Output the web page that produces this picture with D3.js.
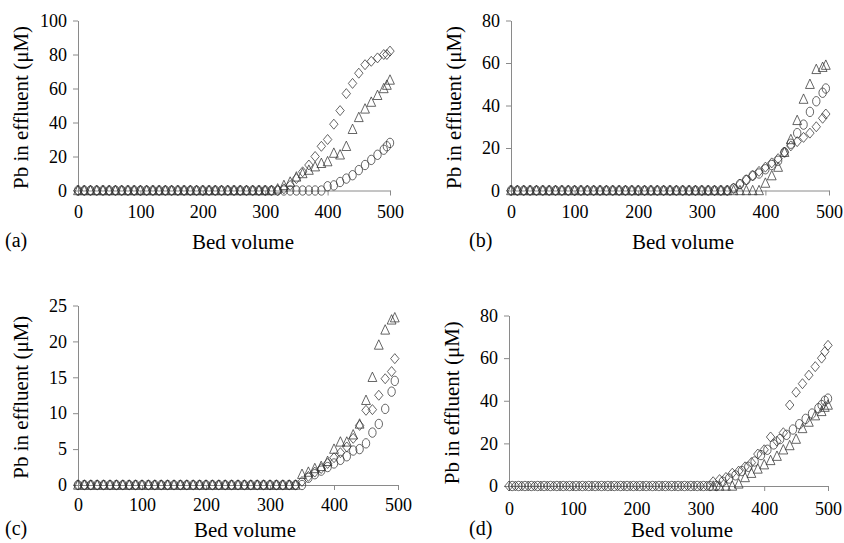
<!DOCTYPE html>
<html>
<head>
<meta charset="utf-8">
<script src="https://cdn.jsdelivr.net/npm/d3@7"></script>
<style>
  body { margin: 0; background: #fff; }
</style>
</head>
<body>
<div class="chart-container"></div>
<script>
// bed volumes sampled in each panel
const xA = [0,10,20,30,40,50,60,70,80,90,100,110,120,130,140,150,160,170,180,190,200,210,220,230,240,250,260,270,280,290,300,310,320,330,340,350,360,370,380,390,400,410,420,430,440,450,460,470,480,490,495,500];
const xB = [0,10,20,30,40,50,60,70,80,90,100,110,120,130,140,150,160,170,180,190,200,210,220,230,240,250,260,270,280,290,300,310,320,330,340,350,360,370,380,390,400,410,420,430,440,450,460,470,480,490,495];
const xC = xB;
const xD = xA;
const xDcircle = [5,15,25,35,45,55,65,75,85,95,105,115,125,135,145,155,165,175,185,195,205,215,225,235,245,255,265,275,285,295,305,315,325,335,345,355,365,375,385,395,405,415,425,435,445,455,465,475,485,490,495,500];

// Pb in effluent (uM)
const diamondA = [0,0,0,0,0,0,0,0,0,0,0,0,0,0,0,0,0,0,0,0,0,0,0,0,0,0,0,0,0,0,0,0,0,
  1,3,7,11,15,20,26,30,39,47,57,63,69,74,76,78,80,80,82];
const triangleA = [0,0,0,0,0,0,0,0,0,0,0,0,0,0,0,0,0,0,0,0,0,0,0,0,0,0,0,0,0,0,0,0,
  1,3,5,8,10,12,14,16,17,22,21,26,36,43,48,52,56,60,62,65];
const circleA = [0,0,0,0,0,0,0,0,0,0,0,0,0,0,0,0,0,0,0,0,0,0,0,0,0,0,0,0,0,0,0,0,0,0,0,0,0,0,0,0,
  2.5,3,5,7,9,12,15,18,21,24,26,28];

const diamondB = [0,0,0,0,0,0,0,0,0,0,0,0,0,0,0,0,0,0,0,0,0,0,0,0,0,0,0,0,0,0,0,0,0,0,0,
  1,3,5,7,9,11,13,15,18,21,23,25,27,30,34,36];
const triangleB = [0,0,0,0,0,0,0,0,0,0,0,0,0,0,0,0,0,0,0,0,0,0,0,0,0,0,0,0,0,0,0,0,0,0,0,0,0,0,0,0,
  3.5,7,11,18,24,33,43,50,57,58,59];
const circleB = [0,0,0,0,0,0,0,0,0,0,0,0,0,0,0,0,0,0,0,0,0,0,0,0,0,0,0,0,0,0,0,0,0,0,0,
  1,3,5,7,8,10,12,14,18,22,27,31,37,42,46,48];

const diamondC = [0,0,0,0,0,0,0,0,0,0,0,0,0,0,0,0,0,0,0,0,0,0,0,0,0,0,0,0,0,0,0,0,0,0,0,
  0.5,1.2,1.8,2.3,3,3.8,4.5,5.3,6.5,8.3,10.4,10.5,12.5,14.8,15.8,17.6];
const triangleC = [0,0,0,0,0,0,0,0,0,0,0,0,0,0,0,0,0,0,0,0,0,0,0,0,0,0,0,0,0,0,0,0,0,0,0,
  1.5,1.8,2.3,2.6,3.3,5,6,6,7,8.5,11.8,15,19.5,21.6,23,23.3];
const circleC = [0,0,0,0,0,0,0,0,0,0,0,0,0,0,0,0,0,0,0,0,0,0,0,0,0,0,0,0,0,0,0,0,0,0,0,0,
  1,1.5,2,2.5,3,3.5,4,4.8,5,5.8,7.3,8.5,10.6,13,14.5];

const diamondD = [0,0,0,0,0,0,0,0,0,0,0,0,0,0,0,0,0,0,0,0,0,0,0,0,0,0,0,0,0,0,0,0,
  2,3,4,6,7,9,11,15,17,23,21,25,38,44,48,52,56,60,63,66];
const triangleD = [null,null,null,null,null,null,null,null,null,null,null,null,null,null,null,null,
  null,null,null,null,null,null,null,null,null,null,null,null,null,null,null,null,
  0,0,0,0,1,4,6,8,10,12,14,17,19,22,27,30,33,35,37,38];
const circleD = [0,0,0,0,0,0,0,0,0,0,0,0,0,0,0,0,0,0,0,0,0,0,0,0,0,0,0,0,0,0,0,0,0,
  2,3.5,5,7,9,11.5,14.5,17,19.5,22,24,26.5,29,31.5,34,36.5,38,40,41];

const xTicks = [0, 100, 200, 300, 400, 500];
const yTicksA = [0, 20, 40, 60, 80, 100];
const yTicksB = [0, 20, 40, 60, 80];
const yTicksC = [0, 5, 10, 15, 20, 25];
const yTicksD = [0, 20, 40, 60, 80];
const letters = ["(a)", "(b)", "(c)", "(d)"];

const w = 844;
const h = 543;
const serif = "'Liberation Serif'";

// panel boxes in page pixels
const panels = [
  { letter: letters[0], yTicks: yTicksA, ymax: 100, x0: 78, x1: 390, y0: 190.5, y1: 20.5, xPad: 10,
    letterY: 247, titleY: 249, letterX: 5, titleX: 243,
    series: [[xA, diamondA, "diamond"], [xA, triangleA, "triangle"], [xA, circleA, "circle"]] },
  { letter: letters[1], yTicks: yTicksB, ymax: 80, x0: 511, x1: 829, y0: 190.5, y1: 20.5, xPad: 10,
    letterY: 247, titleY: 249, letterX: 469, titleX: 683,
    series: [[xB, diamondB, "diamond"], [xB, triangleB, "triangle"], [xB, circleB, "circle"]] },
  { letter: letters[2], yTicks: yTicksC, ymax: 25, x0: 78, x1: 398, y0: 485, y1: 305.5, xPad: 8,
    letterY: 535, titleY: 537, letterX: 5, titleX: 245,
    series: [[xC, diamondC, "diamond"], [xC, triangleC, "triangle"], [xC, circleC, "circle"]] },
  { letter: letters[3], yTicks: yTicksD, ymax: 80, x0: 509, x1: 828, y0: 486, y1: 315.5, xPad: 11,
    letterY: 535, titleY: 537, letterX: 469, titleX: 682,
    series: [[xD, diamondD, "diamond"], [xDcircle, circleD, "circle"], [xD, triangleD, "triangle"]] },
];

const shapes = {
  diamond: "M0,-5L4.2,0L0,5L-4.2,0Z",
  triangle: "M0,-5.2L4.4,4.2L-4.4,4.2Z",
};

const svg = d3
  .select(".chart-container")
  .append("svg")
  .attr("width", w)
  .attr("height", h);

panels.forEach((p) => {
  const xScale = d3.scaleLinear().domain([0, 500]).range([p.x0, p.x1]);
  const yScale = d3.scaleLinear().domain([0, p.ymax]).range([p.y0, p.y1]);

  const xAxis = d3.axisBottom(xScale).tickValues(xTicks).tickSize(5).tickSizeOuter(0).tickPadding(p.xPad);
  const yAxis = d3.axisLeft(yScale).tickValues(p.yTicks).tickSize(5).tickSizeOuter(0).tickPadding(6);

  const gx = svg.append("g").attr("transform", "translate(0," + p.y0 + ")").call(xAxis);
  const gy = svg.append("g").attr("transform", "translate(" + p.x0 + ",0)").call(yAxis);

  [gx, gy].forEach((g) => {
    g.attr("font-family", serif).attr("font-size", 18);
    g.selectAll("path, line").attr("stroke", "#8a8a8a").attr("stroke-width", 1);
    g.selectAll("text").attr("fill", "#000").attr("font-family", serif);
  });

  // markers
  p.series.forEach(([xs, ys, shape]) => {
    const pts = xs.map((x, i) => [x, ys[i]]).filter((d) => d[1] !== null);
    const g = svg.append("g");
    if (shape === "circle") {
      g.selectAll("ellipse")
        .data(pts)
        .enter()
        .append("ellipse")
        .attr("cx", (d) => xScale(d[0]))
        .attr("cy", (d) => yScale(d[1]))
        .attr("rx", 3.7)
        .attr("ry", 4.7)
        .attr("fill", "none")
        .attr("stroke", "#333")
        .attr("stroke-width", 0.75);
    } else {
      g.selectAll("path")
        .data(pts)
        .enter()
        .append("path")
        .attr("d", shapes[shape])
        .attr("transform", (d) => "translate(" + xScale(d[0]) + "," + yScale(d[1]) + ")")
        .attr("fill", "none")
        .attr("stroke", "#333")
        .attr("stroke-width", 0.75);
    }
  });

  // axis titles and panel letter
  svg.append("text")
    .attr("x", p.titleX)
    .attr("y", p.titleY)
    .attr("text-anchor", "middle")
    .attr("font-family", serif)
    .attr("font-size", 21)
    .text("Bed volume");

  svg.append("text")
    .attr("x", p.letterX)
    .attr("y", p.letterY)
    .attr("font-family", serif)
    .attr("font-size", 20)
    .text(p.letter);

  svg.append("text")
    .attr("transform", "translate(" + (p.x0 - 50) + "," + ((p.y0 + p.y1) / 2 + 2) + ") rotate(-90)")
    .attr("text-anchor", "middle")
    .attr("font-family", serif)
    .attr("font-size", 21)
    .text("Pb in effluent (\u03bcM)");
});
</script>
</body>
</html>
